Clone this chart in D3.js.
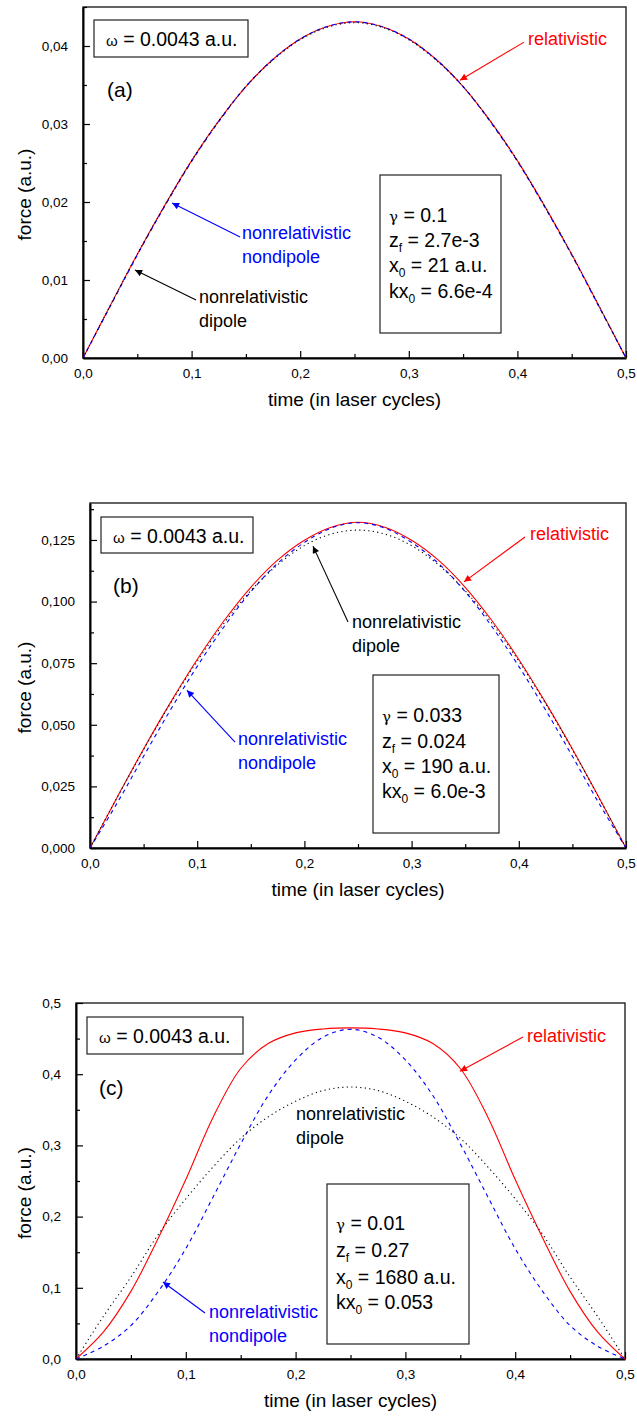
<!DOCTYPE html>
<html lang="en">
<head>
  <meta charset="utf-8">
  <title>force vs time</title>
  <script src="https://cdn.jsdelivr.net/npm/d3@7"></script>
  <style>
    body { margin: 0; background: #fff; }
    svg text { font-family: "Liberation Sans", Arial, sans-serif; }
  </style>
</head>
<body>
<script>
// time in laser cycles, same grid for every curve
var time = [0, 0.025, 0.05, 0.075, 0.1, 0.125, 0.15, 0.175, 0.2, 0.225, 0.25,
            0.275, 0.3, 0.325, 0.35, 0.375, 0.4, 0.425, 0.45, 0.475, 0.5];

// panel (a)
var relA   = [0, .0067, .0133, .0195, .0253, .0304, .0348, .0383, .0409, .0425, .0431, .0425, .0409, .0383, .0348, .0304, .0253, .0195, .0133, .0067, 0];
var ndipA  = [0, .0066, .0132, .0194, .0252, .0303, .0348, .0383, .0409, .0425, .0431, .0425, .0409, .0383, .0348, .0303, .0252, .0194, .0132, .0066, 0];
var dipA   = [0, .0067, .0133, .0195, .0253, .0304, .0348, .0382, .0408, .0424, .0430, .0424, .0408, .0382, .0348, .0304, .0253, .0195, .0133, .0067, 0];
// panel (b)
var relB   = [0, .0203, .0402, .0590, .0765, .0922, .1058, .1168, .1249, .1302, .1322, .1302, .1249, .1168, .1058, .0922, .0765, .0590, .0402, .0203, 0];
var ndipB  = [0, .0180, .0372, .0560, .0737, .0898, .1040, .1155, .1240, .1298, .1320, .1298, .1240, .1155, .1040, .0898, .0737, .0560, .0372, .0180, 0];
var dipB   = [0, .0202, .0399, .0586, .0758, .0912, .1044, .1149, .1227, .1274, .1290, .1274, .1227, .1149, .1044, .0912, .0758, .0586, .0399, .0202, 0];
// panel (c)
var relC   = [0, .038, .095, .170, .252, .340, .408, .443, .458, .4635, .465, .4635, .458, .443, .408, .340, .252, .170, .095, .038, 0];
var ndipC  = [0, .018, .047, .095, .155, .228, .302, .370, .420, .452, .463, .452, .420, .370, .302, .228, .155, .095, .047, .018, 0];
var dipC   = [0, .060, .115, .175, .225, .270, .310, .340, .362, .377, .382, .377, .362, .340, .310, .270, .225, .175, .115, .060, 0];

var xTicks = [0, 0.1, 0.2, 0.3, 0.4, 0.5];
var xTickLabels = ["0,0", "0,1", "0,2", "0,3", "0,4", "0,5"];
var yTicksA = [0, 0.01, 0.02, 0.03, 0.04];
var yTickLabelsA = ["0,00", "0,01", "0,02", "0,03", "0,04"];
var yTicksB = [0, 0.025, 0.05, 0.075, 0.1, 0.125];
var yTickLabelsB = ["0,000", "0,025", "0,050", "0,075", "0,100", "0,125"];
var yTicksC = [0, 0.1, 0.2, 0.3, 0.4, 0.5];
var yTickLabelsC = ["0,0", "0,1", "0,2", "0,3", "0,4", "0,5"];

var paramsA = ["γ = 0.1", "z_f = 2.7e-3", "x_0 = 21 a.u.", "kx_0 = 6.6e-4"];
var paramsB = ["γ = 0.033", "z_f = 0.024", "x_0 = 190 a.u.", "kx_0 = 6.0e-3"];
var paramsC = ["γ = 0.01", "z_f = 0.27", "x_0 = 1680 a.u.", "kx_0 = 0.053"];

var W = 637, H = 1416;
var svg = d3.select("body").append("svg").attr("width", W).attr("height", H);

// arrow heads
var defs = svg.append("defs");
[["red", "#ff0000"], ["blue", "#0000ff"], ["black", "#000"]].forEach(function (c) {
  defs.append("marker")
    .attr("id", "ah-" + c[0])
    .attr("viewBox", "0 0 10 10")
    .attr("refX", 10).attr("refY", 5)
    .attr("markerWidth", 10).attr("markerHeight", 7)
    .attr("markerUnits", "userSpaceOnUse")
    .attr("orient", "auto")
    .append("path").attr("d", "M0,0 L10,5 L0,10 z").attr("fill", c[1]);
});

var panels = [
  { left: 83, right: 626, top: 7, bottom: 358, ymax: 0.045,
    rel: relA, ndip: ndipA, dip: dipA, yTicks: yTicksA, yLabels: yTickLabelsA,
    params: paramsA, tag: "(a)",
    omega: [11, 13, 154, 37], tagPos: [24, 90], box: [297, 168, 121, 158], lineY: [47, 72, 97, 123],
    relNote:  { text: [0.4098, 0.0401], tail: [0.4061, 0.0405], tip: [0.3471, 0.0356] },
    ndipNote: { text: [0.1464, 0.01526], tail: [0.1446, 0.01551], tip: [0.0820, 0.01987] },
    dipNote:  { text: [0.1068, 0.00705], tail: [0.1041, 0.00744], tip: [0.0479, 0.01128] } },
  { left: 90, right: 626, top: 503, bottom: 848, ymax: 0.14,
    rel: relB, ndip: ndipB, dip: dipB, yTicks: yTicksB, yLabels: yTickLabelsB,
    params: paramsB, tag: "(b)",
    omega: [11, 14, 152, 36], tagPos: [23, 90], box: [283, 172, 126, 158], lineY: [47, 73, 98, 123],
    relNote:  { text: [0.4104, 0.1250], tail: [0.4058, 0.1262], tip: [0.3489, 0.1080] },
    ndipNote: { text: [0.1381, 0.0418], tail: [0.1353, 0.0430], tip: [0.0905, 0.0640] },
    dipNote:  { text: [0.2444, 0.0893], tail: [0.2407, 0.0917], tip: [0.2080, 0.1225] } },
  { left: 76, right: 625, top: 1003, bottom: 1359, ymax: 0.5,
    rel: relC, ndip: ndipC, dip: dipC, yTicks: yTicksC, yLabels: yTickLabelsC,
    params: paramsC, tag: "(c)",
    omega: [11, 14, 156, 37], tagPos: [23, 92], box: [251, 181, 142, 160], lineY: [46, 73, 100, 125],
    relNote:  { text: [0.4107, 0.4452], tail: [0.4071, 0.4522], tip: [0.3497, 0.4040] },
    ndipNote: { text: [0.1211, 0.0576], tail: [0.1175, 0.0646], tip: [0.0792, 0.1081] },
    dipNote:  { text: [0.2004, 0.3357], tail: null, tip: null } }
];

function midpoints(arr) {
  var m = [];
  for (var i = 0; i < arr.length - 1; i++) m.push((arr[i] + arr[i + 1]) / 2);
  return m;
}

panels.forEach(function (p) {
  var w = p.right - p.left, h = p.bottom - p.top;
  var g = svg.append("g").attr("transform", "translate(" + p.left + "," + p.top + ")");
  var x = d3.scaleLinear().domain([0, 0.5]).range([0, w]);
  var y = d3.scaleLinear().domain([0, p.ymax]).range([h, 0]);

  // frame
  g.append("rect").attr("width", w).attr("height", h)
    .attr("fill", "none").attr("stroke", "#222").attr("stroke-width", 1.4);

  // minor ticks
  var yMinor = midpoints(p.yTicks);
  if (p.yTicks[p.yTicks.length - 1] + (p.yTicks[1] - p.yTicks[0]) / 2 <= p.ymax + 1e-9)
    yMinor.push(p.yTicks[p.yTicks.length - 1] + (p.yTicks[1] - p.yTicks[0]) / 2);
  g.append("g").attr("transform", "translate(0," + h + ")")
    .call(d3.axisBottom(x).tickValues(midpoints(xTicks)).tickSize(-4).tickSizeOuter(0).tickFormat(""))
    .call(function (s) { s.select(".domain").remove(); });
  g.append("g")
    .call(d3.axisLeft(y).tickValues(yMinor).tickSize(-4).tickSizeOuter(0).tickFormat(""))
    .call(function (s) { s.select(".domain").remove(); });

  // major axes
  var xa = g.append("g").attr("transform", "translate(0," + h + ")")
    .call(d3.axisBottom(x).tickValues(xTicks).tickSize(-7).tickSizeOuter(0).tickPadding(10)
      .tickFormat(function (d, i) { return xTickLabels[i]; }));
  var ya = g.append("g")
    .call(d3.axisLeft(y).tickValues(p.yTicks).tickSize(-7).tickSizeOuter(0).tickPadding(15)
      .tickFormat(function (d, i) { return p.yLabels[i]; }));
  [xa, ya].forEach(function (a) {
    a.select(".domain").attr("stroke", "#000").attr("stroke-width", 2);
    a.selectAll(".tick text").attr("font-size", 13.5).attr("fill", "#000")
      .attr("font-family", "'Liberation Sans', Arial, sans-serif");
  });
  g.selectAll(".tick line").attr("stroke", "#000").attr("stroke-width", 1.2);

  // axis titles
  g.append("text").attr("x", w / 2).attr("y", h + 48).attr("text-anchor", "middle")
    .attr("font-size", 19).text("time (in laser cycles)");
  g.append("text").attr("transform", "translate(" + (31 - p.left) + "," + (h / 2 + 12) + ") rotate(-90)")
    .attr("text-anchor", "middle").attr("font-size", 19).text("force (a.u.)");

  // curves
  var line = function (vals) {
    return d3.line().x(function (d, i) { return x(time[i]); }).y(function (d) { return y(d); })
      .curve(d3.curveCatmullRom.alpha(0.5))(vals);
  };
  g.append("path").attr("d", line(p.rel)).attr("fill", "none").attr("stroke", "#ff0000").attr("stroke-width", 1.1);
  g.append("path").attr("d", line(p.ndip)).attr("fill", "none").attr("stroke", "#0000ff").attr("stroke-width", 1.1)
    .attr("stroke-dasharray", "4,4");
  g.append("path").attr("d", line(p.dip)).attr("fill", "none").attr("stroke", "#000").attr("stroke-width", 1.1)
    .attr("stroke-dasharray", "1.2,3.3");

  // omega box
  g.append("rect").attr("x", p.omega[0]).attr("y", p.omega[1]).attr("width", p.omega[2]).attr("height", p.omega[3])
    .attr("fill", "#fff").attr("stroke", "#222").attr("stroke-width", 1.2);
  var ot = g.append("text").attr("x", p.omega[0] + 12).attr("y", p.omega[1] + 26).attr("font-size", 19.5);
  ot.append("tspan").attr("font-size", 15).text("ω");
  ot.append("tspan").text(" = 0.0043 a.u.");

  // panel tag
  g.append("text").attr("x", p.tagPos[0]).attr("y", p.tagPos[1]).attr("font-size", 21).text(p.tag);

  // parameter box
  g.append("rect").attr("x", p.box[0]).attr("y", p.box[1]).attr("width", p.box[2]).attr("height", p.box[3])
    .attr("fill", "#fff").attr("stroke", "#222").attr("stroke-width", 1.2);
  p.params.forEach(function (s, k) {
    var t = g.append("text").attr("x", p.box[0] + 9).attr("y", p.box[1] + p.lineY[k]).attr("font-size", 19.5);
    var parts = s.split("_");
    if (parts.length === 1) {
      t.append("tspan").attr("font-size", 15).attr("font-family", "'DejaVu Serif', serif").text(s.charAt(0));
      t.append("tspan").text(s.slice(1));
    } else {
      t.append("tspan").text(parts[0]);
      t.append("tspan").attr("font-size", 12).attr("dy", 5).text(parts[1].charAt(0));
      t.append("tspan").attr("dy", -5).text(parts[1].slice(1));
    }
  });

  // annotations
  function note(n, lines, color, id) {
    var t = g.append("text").attr("x", x(n.text[0])).attr("y", y(n.text[1]))
      .attr("font-size", 18).attr("fill", color);
    lines.forEach(function (l, k) {
      t.append("tspan").attr("x", x(n.text[0])).attr("dy", k ? 24 : 0).text(l);
    });
    if (n.tip) {
      g.append("line").attr("x1", x(n.tail[0])).attr("y1", y(n.tail[1]))
        .attr("x2", x(n.tip[0])).attr("y2", y(n.tip[1]))
        .attr("stroke", color).attr("stroke-width", 1.1).attr("marker-end", "url(#ah-" + id + ")");
    }
  }
  note(p.relNote, ["relativistic"], "#ff0000", "red");
  note(p.ndipNote, ["nonrelativistic", "nondipole"], "#0000ff", "blue");
  note(p.dipNote, ["nonrelativistic", "dipole"], "#000", "black");
});
</script>
</body>
</html>
